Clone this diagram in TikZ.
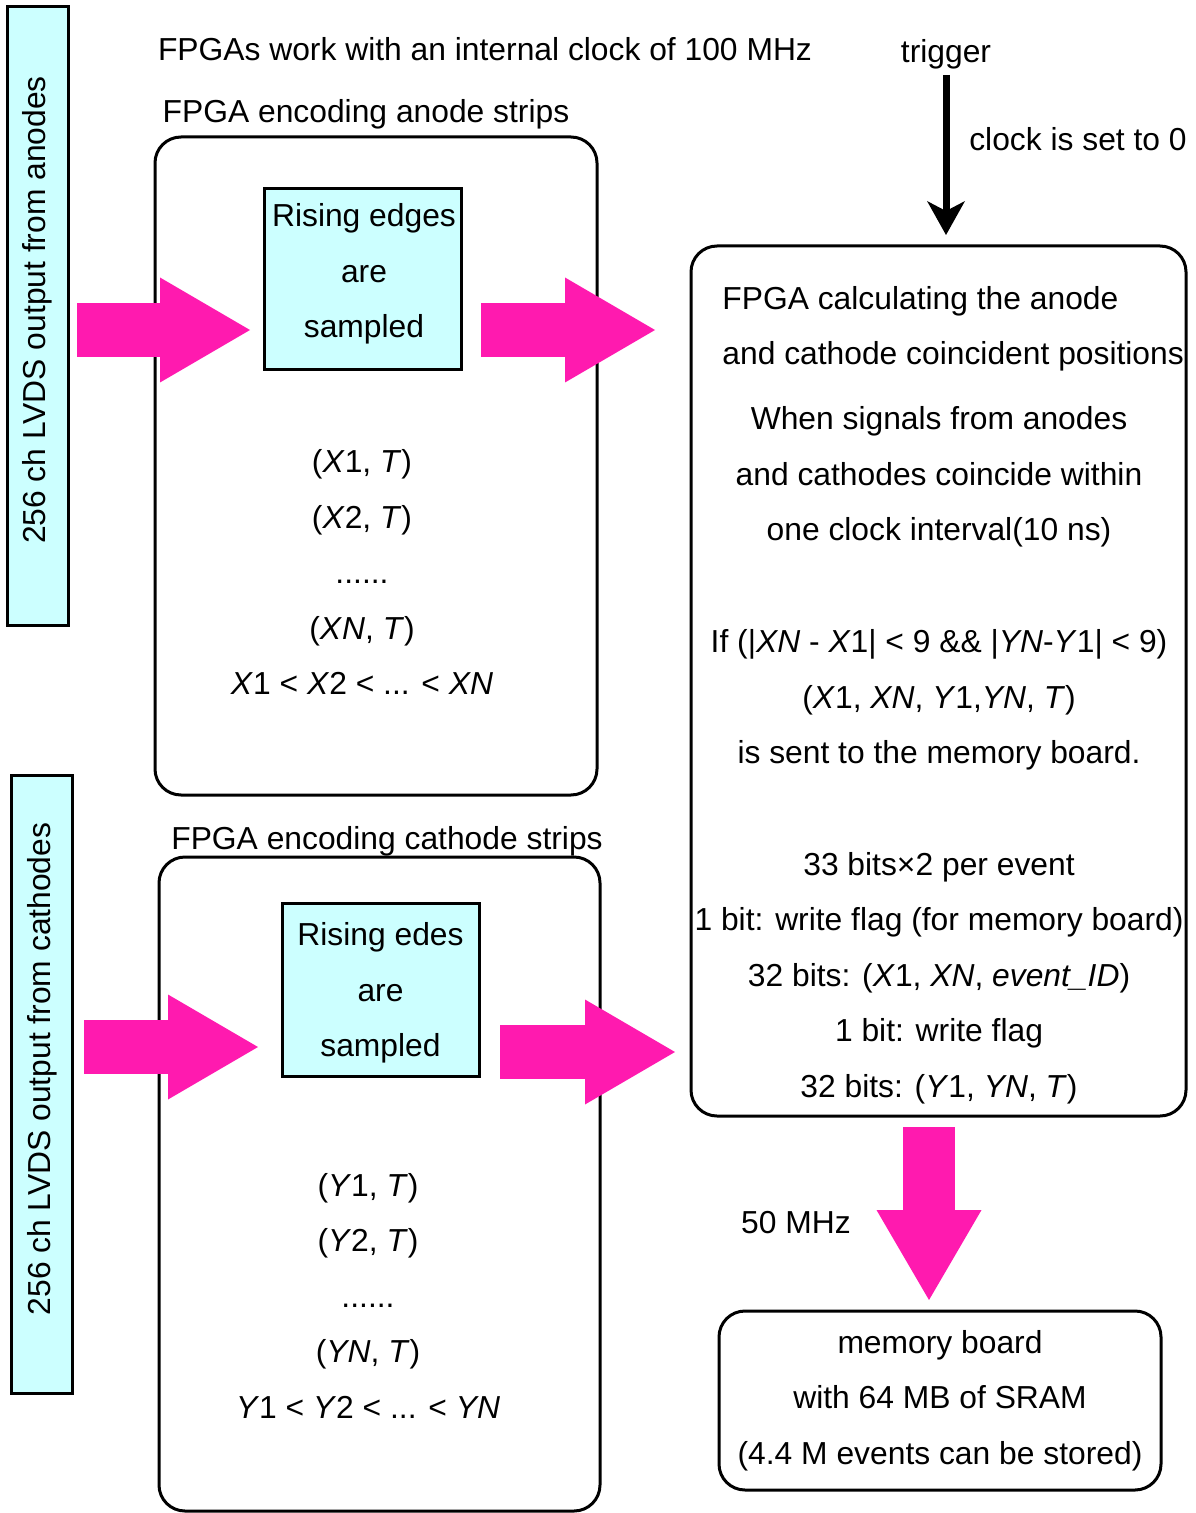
\documentclass[tikz,border=0pt]{standalone}
\usepackage{fontspec}
\setmainfont{Liberation Sans}
\usetikzlibrary{arrows.meta}
\definecolor{hotpink}{RGB}{255,26,175}
\definecolor{palecyan}{RGB}{204,255,255}
\newcommand{\iv}[1]{\textit{#1}}

\begin{document}
\begin{tikzpicture}[x=0.5pt,y=-0.5pt]
\tikzstyle{txt}=[font=\fontsize{15.9}{27.75}\selectfont, align=center, inner sep=0pt]
\tikzstyle{stripbox}=[draw, line width=1.5pt, fill=palecyan, rotate=90,
minimum height=30.5pt, minimum width=309pt, txt]
\tikzstyle{samplebox}=[draw, line width=1.5pt, fill=palecyan, minimum width=98.5pt]
\tikzstyle{fpgabox}=[draw, line width=1.5pt, rounded corners=13pt]
\tikzstyle{fatarrow}=[draw=hotpink, line width=27pt,
-{Triangle[length=45pt, width=52.5pt, line width=0pt]}]
\useasboundingbox (0,0) rectangle (1195,1513);
% input strips
\node[stripbox] (anodestrip) at (37.5,316) {\hspace*{6pt}256 ch LVDS output from anodes};
\node[stripbox] (cathodestrip) at (42,1084) {\hspace*{15pt}256 ch LVDS output from cathodes};
% anode FPGA
\node[txt, anchor=base] (clocknote) at (485,61) {FPGAs work with an internal clock of 100 MHz};
\node[txt, anchor=base] (anodetitle) at (366,123) {FPGA encoding anode strips};
\node[fpgabox, minimum width=221pt, minimum height=329pt] (anodefpga) at (376,466) {};
\node[samplebox, minimum height=90.5pt] (anodesample) at (362.5,279.5) {};
\node[txt] (anodesampletxt) at (364,274) {Rising edges\\are\\sampled};
\node[txt] (anodelist) at (362,572) {(\iv{X}1, \iv{T})\\(\iv{X}2, \iv{T})\\......\\(\iv{X}\iv{N}, \iv{T})\\
\iv{X}1 {<} \iv{X}2 {<} ... {<} \iv{XN}};
% cathode FPGA
\node[txt, anchor=base] (cathodetitle) at (387,849) {FPGA encoding cathode strips};
\node[fpgabox, minimum width=220.5pt, minimum height=327pt] (cathodefpga) at (379.5,1184) {};
\node[samplebox, minimum height=86.5pt] (cathodesample) at (380.5,989.5) {};
\node[txt] (cathodesampletxt) at (380.5,993) {Rising edes\\are\\sampled};
\node[txt] (cathodelist) at (368,1295.5) {(\iv{Y}1, \iv{T})\\(\iv{Y}2, \iv{T})\\......\\(\iv{YN}, \iv{T})\\
\iv{Y}1 {<} \iv{Y}2 {<} ... {<} \iv{YN}};
% coincidence FPGA
\node[txt, anchor=base] (trigger) at (946,63) {trigger};
\node[txt, anchor=base] (clockzero) at (1078,151) {clock is set to 0};
\node[fpgabox, minimum width=247.5pt, minimum height=435pt] (calcfpga) at (938.5,681) {};
\node[txt, align=left, anchor=west] (calctitle) at (722,329) {FPGA calculating the anode\\and cathode coincident positions};
\node[txt] (calcwhen) at (939,477) {When signals from anodes\\and cathodes coincide within\\one clock interval(10 ns)};
\node[txt] (calcif) at (939,700) {If (|\iv{XN} - \iv{X}1| {<} 9 \&\& |\iv{YN}-\iv{Y}1| {<} 9)\\
(\iv{X}1, \iv{XN}, \iv{Y}1,\iv{YN}, \iv{T})\\is sent to the memory board.};
\node[txt] (calcbits) at (939,978) {33 bits×2 per event\\1 bit: write flag (for memory board)\\
32 bits: (\iv{X}1, \iv{XN}, \iv{event\_ID})\\1 bit: write flag\\32 bits: (\iv{Y}1, \iv{YN}, \iv{T})};
% memory board
\node[txt, anchor=base] (rate) at (796,1233) {50 MHz};
\node[fpgabox, txt, minimum width=221pt, minimum height=89.5pt] (memboard) at (940,1400.5)
{memory board\\with 64 MB of SRAM\\(4.4 M events can be stored)};
% arrows
\coordinate (anin) at (77,330);
\coordinate (anintip) at (250,330);
\coordinate (anout) at (481,330);
\coordinate (anouttip) at (655,330);
\coordinate (cain) at (84,1047);
\coordinate (cainp) at (258,1047);
\coordinate (caout) at (500,1052);
\coordinate (caouttip) at (675,1052);
\coordinate (memin) at (929,1127);
\coordinate (memintip) at (929,1300);
\coordinate (trigtip) at (946,235);
\draw[fatarrow] (anin) -- (anintip);
\draw[fatarrow] (anout) -- (anouttip);
\draw[fatarrow] (cain) -- (cainp);
\draw[fatarrow] (caout) -- (caouttip);
\draw[fatarrow, line width=26pt] (memin) -- (memintip);
\draw[line width=3.5pt, shorten <=2.5pt, -{Stealth[length=17pt, width=19pt, inset=5pt, line width=0pt]}]
(trigger.south) -- (trigtip);
\end{tikzpicture}
\end{document}
